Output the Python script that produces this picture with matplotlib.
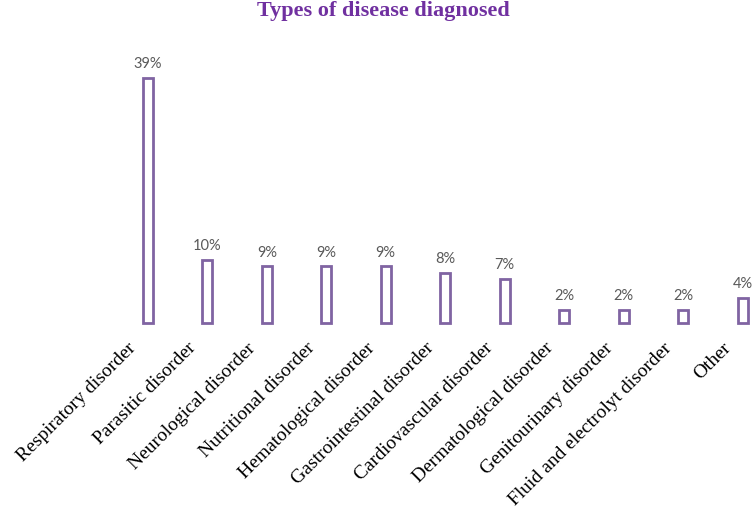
import matplotlib
matplotlib.use("Agg")
import matplotlib.pyplot as plt
from matplotlib.transforms import ScaledTranslation

# Disease categories and share of diagnoses (%)
categories = [
    "Respiratory disorder",
    "Parasitic disorder",
    "Neurological disorder",
    "Nutritional disorder",
    "Hematological disorder",
    "Gastrointestinal disorder",
    "Cardiovascular disorder",
    "Dermatological disorder",
    "Genitourinary disorder",
    "Fluid and electrolyt disorder",
    "Other",
]
percent = [39, 10, 9, 9, 9, 8, 7, 2, 2, 2, 4]

purple = "#8064A2"
title_purple = "#7030A0"

fig = plt.figure(figsize=(7.54, 5.13), dpi=100)
ax = fig.add_axes([118 / 754, 190 / 513, 654.5 / 754, 282.7 / 513])

x = range(len(categories))
bars = ax.bar(x, percent, width=0.17, facecolor="white", edgecolor=purple,
              linewidth=2.0, clip_on=False)

for b, v in zip(bars, percent):
    ax.annotate(f"{v}%", (b.get_x() + b.get_width() / 2, b.get_height()),
                xytext=(0, 5), textcoords="offset points", ha="center", va="bottom",
                fontsize=10.5, color="#595959", family="Lato", annotation_clip=False)

ax.set_xlim(-0.5, 10.5)
ax.set_ylim(0, 45)
ax.set_xticks(list(x))
ax.set_xticklabels(categories, rotation=45, ha="right", rotation_mode="anchor",
                   fontsize=14, family="Liberation Serif")
ax.tick_params(axis="x", length=0, pad=12)
# shift tick labels a bit to the left, like the original
shift = ScaledTranslation(-20 / 100, 0, fig.dpi_scale_trans)
for lbl in ax.get_xticklabels():
    lbl.set_transform(lbl.get_transform() + shift)
ax.set_yticks([])
for s in ax.spines.values():
    s.set_visible(False)

fig.text(383 / 754, 1 - 11 / 513, "Types of disease diagnosed", ha="center", va="center",
         fontsize=16, fontweight="bold", color=title_purple, family="Liberation Serif")

fig.savefig("out.png", dpi=100)
